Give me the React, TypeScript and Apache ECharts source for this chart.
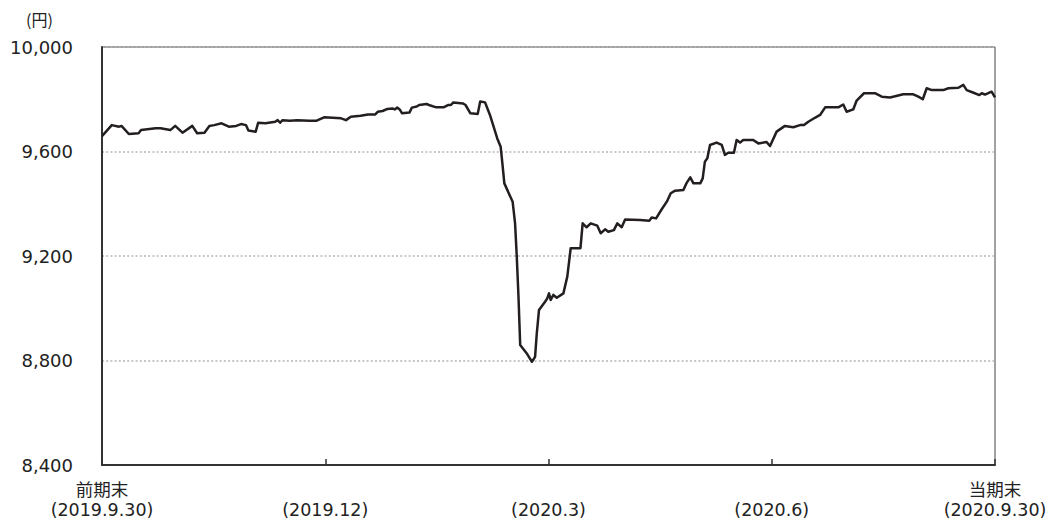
import React, { useEffect, useRef } from "react";
import * as echarts from "echarts";

// days since 前期末 (2019-09-30)
const dayOffsets = [
  0, 4, 7, 8, 11, 15, 16, 22, 24, 28, 30, 33, 37, 39, 42, 44, 46, 49, 52, 55, 57, 59, 60, 63, 64, 67, 71, 72, 73, 74, 77, 80, 85, 88,
  91, 98, 100, 102, 106, 109, 112, 113, 115, 117, 119, 120, 121, 122, 123, 126, 127, 129, 130, 133, 134, 137, 140, 142, 143, 144,
  148, 149, 151, 154, 155, 157, 159, 162, 163.4, 164.1, 164.9, 168.3, 169.3, 170.0, 170.7, 171.4, 174.1, 176.2, 177.5, 178.2,
  179.1, 181.6, 182.5, 183.2, 183.9, 185.0, 186.4, 189.1, 190.7, 192.1, 196.1, 197.0, 198.6, 200.3, 203.0, 204.4, 206.2, 207.5,
  209.8, 211.2, 213.0, 214.4, 220.5, 224.3, 225.3, 227.1, 229.4, 231.5, 233.1, 234.9, 238.3, 239.7, 241.1, 242.4, 245.2, 246.2,
  247.1, 248.1, 249.2, 251.9, 254.0, 255.3, 256.7, 259.0, 260.1, 261.5, 262.8, 266.9, 269.0, 272.4, 273.8, 276.5, 279.9, 283.3,
  286.1, 287.7, 289.5, 292.2, 294.3, 296.4, 301.8, 303.8, 305.2, 307.9, 309.3, 312.3, 316.8, 319.6, 323.0, 328.4, 332.5, 334.6,
  336.4, 338.0, 340.1, 344.8, 346.9, 351.0, 353.0, 354.4, 357.2, 359.6, 360.6, 361.9, 364.6, 366,
];

// 基準価額 (円)
const navValues = [
  9659, 9701, 9695, 9698, 9667, 9670, 9682, 9689, 9689, 9682, 9698, 9672, 9698, 9670, 9672, 9698, 9701, 9708, 9695, 9698, 9705, 9701, 9680, 9676, 9710, 9708, 9714, 9720, 9710, 9720, 9718, 9720, 9718, 9718,
  9731, 9727, 9720, 9733, 9737, 9742, 9742, 9752, 9755, 9763, 9765, 9761, 9768, 9761, 9746, 9749, 9768, 9772, 9778, 9782, 9778, 9769, 9769, 9778, 9778, 9788,
  9784, 9778, 9746, 9744, 9791, 9788, 9740, 9650, 9618, 9555, 9478, 9408, 9325, 9197, 9044, 8859, 8827, 8795, 8814, 8904,
  8993, 9025, 9038, 9057, 9032, 9051, 9040, 9057, 9121, 9230, 9230, 9325, 9310, 9325, 9316, 9287, 9302, 9293,
  9299, 9325, 9310, 9340, 9338, 9335, 9347, 9344, 9379, 9408, 9440, 9450, 9453, 9481, 9501, 9478, 9478, 9497,
  9561, 9574, 9625, 9634, 9625, 9587, 9595, 9595, 9644, 9634, 9644, 9644, 9631, 9636, 9621, 9676, 9698, 9693,
  9701, 9701, 9714, 9729, 9740, 9769, 9769, 9780, 9752, 9761, 9795, 9823, 9823, 9810, 9807, 9819, 9819, 9810,
  9800, 9842, 9835, 9835, 9842, 9844, 9855, 9835, 9825, 9816, 9823, 9818, 9829, 9807,
];

const xTickLabels = [
  "前期末\n(2019.9.30)",
  "\n(2019.12)",
  "\n(2020.3)",
  "\n(2020.6)",
  "当期末\n(2020.9.30)",
];

const yMin = 8400;
const yMax = 10000;
const yStep = 400;
const xMax = 366;
const xStep = 91.5;

const FONT = '"DejaVu Sans", "Noto Sans CJK JP", sans-serif';
const CJK = '"Noto Sans CJK JP", "DejaVu Sans", sans-serif';

export default function App() {
  const ref = useRef<HTMLDivElement>(null);

  useEffect(() => {
    if (!ref.current) return;
    const chart = echarts.init(ref.current, undefined, { renderer: "svg" });
    const data = dayOffsets.map((d, i) => [d, navValues[i]]);
    chart.setOption({
      animation: false,
      backgroundColor: "#ffffff",
      textStyle: { fontFamily: FONT },
      grid: {
        left: 102,
        right: 57,
        top: 47,
        bottom: 58,
        show: true,
        borderColor: "#444444",
        borderWidth: 1,
        containLabel: false,
      },
      graphic: [
        {
          type: "text",
          left: 26,
          top: 11,
          style: { text: "(円)", fontSize: 16, fontFamily: CJK, fill: "#222222" },
        },
      ],
      xAxis: {
        type: "value",
        min: 0,
        max: xMax,
        interval: xStep,
        axisLine: { show: true, lineStyle: { color: "#333333", width: 2 } },
        axisTick: { show: true, inside: true, length: 6, lineStyle: { color: "#333333", width: 1.5 } },
        splitLine: { show: false },
        axisLabel: {
          show: true,
          margin: 15,
          fontSize: 17.5,
          lineHeight: 20,
          color: "#222222",
          fontFamily: FONT,
          showMinLabel: true,
          showMaxLabel: true,
          formatter: (v: number) => xTickLabels[Math.round(v / xStep)] ?? "",
        },
      },
      yAxis: {
        type: "value",
        min: yMin,
        max: yMax,
        interval: yStep,
        axisLine: { show: true, lineStyle: { color: "#333333", width: 2 } },
        axisTick: { show: false },
        splitLine: {
          show: true,
          lineStyle: { color: "#b5b5b5", width: 1.5, type: [2, 2.2] },
        },
        axisLabel: {
          margin: 29,
          fontSize: 18,
          color: "#222222",
          fontFamily: FONT,
          formatter: (v: number) => v.toLocaleString("en-US"),
        },
      },
      series: [
        {
          type: "line",
          data,
          showSymbol: false,
          symbol: "none",
          lineStyle: { color: "#231f20", width: 2.5, join: "round" },
          z: 3,
        },
      ],
    });
    return () => chart.dispose();
  }, []);

  return (
    <div
      ref={ref}
      style={{ position: "fixed", left: 0, top: 0, width: 1052, height: 523, background: "#fff" }}
    />
  );
}
